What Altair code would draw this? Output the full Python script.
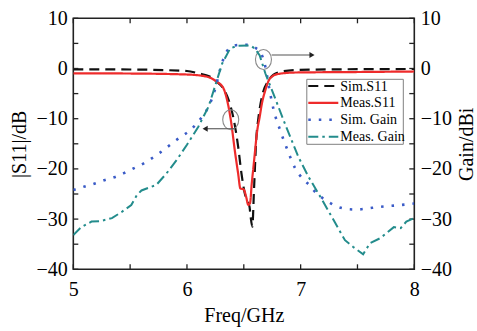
import altair as alt
import pandas as pd

# ---------------- data ----------------
sim_s11_f = [5.0, 5.5, 6.0, 6.10, 6.20, 6.26, 6.32, 6.37, 6.41, 6.45, 6.48, 6.51, 6.53,
             6.55, 6.56, 6.575, 6.59, 6.61, 6.63, 6.66, 6.72, 6.80, 6.95, 7.33, 8.0]
sim_s11_v = [-0.17, -0.2, -0.5, -0.96, -1.6, -2.6, -4.0, -6.5, -10.0, -15.5, -21.0, -25.0, -26.4,
             -27.5, -29.5, -31.5, -24.0, -14.0, -9.6, -5.6, -2.3, -0.8, -0.3, -0.16, -0.1]

meas_s11_f = [5.0, 5.5, 6.0, 6.17, 6.26, 6.32, 6.35, 6.39, 6.42, 6.45, 6.47, 6.50, 6.52, 6.54,
              6.555, 6.57, 6.585, 6.60, 6.615, 6.64, 6.66, 6.69, 6.73, 6.80, 6.95, 7.5, 8.0]
meas_s11_v = [-0.96, -1.0, -1.2, -1.6, -2.6, -3.9, -6.0, -10.9, -16.2, -20.9, -23.9, -24.1, -25.5, -27.2,
              -26.8, -22.9, -19.6, -16.2, -12.9, -9.6, -6.9, -4.3, -2.0, -1.1, -0.8, -0.7, -0.6]

sim_gain_f = [5.0, 5.10, 5.19, 5.28, 5.37, 5.45, 5.53, 5.62, 5.69, 5.76, 5.91, 6.06, 6.13, 6.19,
              6.25, 6.29, 6.36, 6.45, 6.555, 6.61, 6.64, 6.69, 6.72, 6.76, 6.82, 6.88, 6.95, 7.02,
              7.08, 7.14, 7.22, 7.31, 7.41, 7.49, 7.58, 7.68, 7.77, 7.88, 8.0]
sim_gain_v = [-24.2, -23.5, -22.9, -22.2, -21.6, -20.8, -19.9, -18.9, -17.9, -16.8, -14.2, -11.6, -9.7, -7.6,
              -3.9, -0.3, 3.7, 4.7, 4.7, 4.0, 3.5, 0.3, -3.5, -8.0, -12.3, -16.0, -19.8, -22.0,
              -23.3, -24.9, -26.2, -27.4, -28.0, -28.1, -27.9, -27.6, -27.4, -27.2, -26.9]

meas_gain_f = [5.0, 5.07, 5.16, 5.24, 5.34, 5.43, 5.51, 5.56, 5.60, 5.73, 5.82, 5.91, 6.0, 6.10,
               6.19, 6.25, 6.31, 6.38, 6.44, 6.56, 6.60, 6.64, 6.69, 6.77, 6.86, 6.98, 7.07, 7.19,
               7.29, 7.39, 7.46, 7.55, 7.61, 7.70, 7.82, 7.88, 7.93, 8.0]
meas_gain_v = [-33.2, -31.6, -30.5, -30.4, -29.8, -28.5, -27.2, -25.2, -24.3, -23.2, -20.9, -18.2, -15.2, -11.6,
               -7.6, -3.3, 1.0, 4.0, 4.5, 4.6, 3.9, 2.6, -1.0, -5.6, -10.9, -17.6, -21.6, -26.2,
               -30.2, -34.2, -35.5, -37.0, -34.8, -33.8, -31.6, -31.8, -30.5, -29.8]

series_names = ["Sim.S11", "Meas.S11", "Sim. Gain", "Meas. Gain"]
series_colors = ["#111111", "#ee2b2b", "#3a5bc7", "#238c8c"]
series_dash = [[10, 6], [1, 0], [2.5, 8], [10, 4, 2.5, 4]]
series_width = [2.2, 2.2, 2.6, 2.0]
series_interp = ["monotone", "monotone", "monotone", "linear"]

x_major = [5, 6, 7, 8]
x_minor = [5.5, 6.5, 7.5]
y_major = [10, 0, -10, -20, -30, -40]
y_minor = [5, -5, -15, -25, -35]

# annotation ellipses and arrows (data coordinates)
circle_f = [6.385, 6.673]
circle_v = [-10.2, 1.8]
arrow_start_f = [6.42, 6.745]
arrow_end_f = [6.16, 7.10]
arrow_v = [-12.0, 2.7]
arrow_dir = ["l", "r"]

# ---------------- chart ----------------
W, H = 341, 251
FONT = "Liberation Serif"

xs = alt.Scale(domain=[5, 8], nice=False, zero=False)
ys_left = alt.Scale(domain=[-40, 10], nice=False, zero=False)
ys_right = alt.Scale(domain=[-40, 10], nice=False, zero=False)

x_axis = alt.Axis(values=x_major, format="d", ticks=False, tickSize=0, domain=False, grid=False,
                  labelFont=FONT, labelFontSize=20, labelColor="black", labelPadding=10,
                  labelFlush=False, title="Freq/GHz", titleFont=FONT, titleFontSize=20,
                  titleFontWeight="normal", titleColor="black", titlePadding=6)
yl_axis = alt.Axis(orient="left", values=y_major, format="d", ticks=False, tickSize=0, domain=False,
                   grid=False, labelFont=FONT, labelFontSize=20, labelColor="black", labelPadding=6,
                   title="|S11|/dB", titleFont=FONT, titleFontSize=20, titleFontWeight="normal",
                   titleColor="black", titleAngle=270, titleBaseline="alphabetic", titleX=-48,
                   titleY=H / 2, titleAlign="center")
yr_axis = alt.Axis(orient="right", values=y_major, format="d", ticks=False, tickSize=0, domain=False,
                   grid=False, labelFont=FONT, labelFontSize=20, labelColor="black", labelPadding=6,
                   title="Gain/dBi", titleFont=FONT, titleFontSize=20, titleFontWeight="normal",
                   titleColor="black", titleAngle=270, titleBaseline="alphabetic", titleX=58,
                   titleY=H / 2, titleAlign="center")

X = alt.X("f:Q", scale=xs, axis=x_axis)
YL = alt.Y("v:Q", scale=ys_left, axis=yl_axis)
YR = alt.Y("v:Q", scale=ys_right, axis=yr_axis)


def series_line(fs, vs, i, y_enc):
    df = pd.DataFrame({"f": fs, "v": vs})
    return alt.Chart(df).mark_line(
        color=series_colors[i], strokeDash=series_dash[i], strokeWidth=series_width[i],
        interpolate=series_interp[i], clip=True
    ).encode(x=X, y=y_enc)


left_layers = [
    series_line(sim_s11_f, sim_s11_v, 0, YL),
    series_line(meas_s11_f, meas_s11_v, 1, YL),
]

# inward ticks
xt = pd.DataFrame({"f": x_major + x_minor})
yt = pd.DataFrame({"v": y_major + y_minor})
tick_style = dict(color="#222222", strokeWidth=1.3)
left_layers += [
    alt.Chart(xt).mark_rule(**tick_style).encode(x=X, y=alt.value(H), y2=alt.value(H - 5)),
    alt.Chart(xt).mark_rule(**tick_style).encode(x=X, y=alt.value(0), y2=alt.value(5)),
    alt.Chart(yt).mark_rule(**tick_style).encode(y=YL, x=alt.value(0), x2=alt.value(5)),
    alt.Chart(yt).mark_rule(**tick_style).encode(y=YL, x=alt.value(W), x2=alt.value(W - 5)),
]

# annotations
circ = pd.DataFrame({"f": circle_f, "v": circle_v})
arr = pd.DataFrame({"f": arrow_start_f, "f2": arrow_end_f, "v": arrow_v, "dir": arrow_dir})
arr_head = pd.DataFrame({"f": arrow_end_f, "v": arrow_v, "dir": arrow_dir})
ellipse = "M-0.8,0 A0.8,1 0 1,0 0.8,0 A0.8,1 0 1,0 -0.8,0 Z"
left_layers += [
    alt.Chart(circ).mark_point(shape=ellipse, size=400, filled=False, color="#8a8a8a",
                               strokeWidth=1.1, opacity=1).encode(x=X, y=YL),
    alt.Chart(arr).mark_rule(color="#555555", strokeWidth=1.1).encode(x=X, x2="f2:Q", y=YL),
    alt.Chart(arr_head).mark_point(filled=True, size=35, color="#222222", opacity=1).encode(
        x=X, y=YL,
        shape=alt.Shape("dir:N", scale=alt.Scale(domain=["l", "r"],
                                                 range=["triangle-left", "triangle-right"]),
                        legend=None)),
]

left = alt.layer(*left_layers)

right = alt.layer(
    series_line(sim_gain_f, sim_gain_v, 2, YR),
    series_line(meas_gain_f, meas_gain_v, 3, YR),
)

# legend box (pixel placement inside the plot area)
one = pd.DataFrame({"k": [0]})
LX0, LX1, LY0, LY1 = 233.5, 330, 61, 126
row_y = [67.7, 84.6, 101.5, 118.4]
legend_layers = [
    alt.Chart(one).mark_rect(fill="white", stroke="#808080", strokeWidth=1).encode(
        x=alt.value(LX0), x2=alt.value(LX1), y=alt.value(LY0), y2=alt.value(LY1))
]
for i, name in enumerate(series_names):
    legend_layers.append(
        alt.Chart(one).mark_rule(color=series_colors[i], strokeDash=series_dash[i],
                                 strokeWidth=series_width[i]).encode(
            x=alt.value(LX0 + 1.5), x2=alt.value(LX0 + 31.5), y=alt.value(row_y[i])))
    legend_layers.append(
        alt.Chart(one).mark_text(text=name, font=FONT, fontSize=14, color="black",
                                 align="left", baseline="middle").encode(
            x=alt.value(LX0 + 33.5), y=alt.value(row_y[i] + 0.5)))

legend = alt.layer(*legend_layers)

chart = alt.layer(left, right, legend).resolve_scale(y="independent").properties(
    width=W, height=H,
    autosize=alt.AutoSizeParams(type="none"),
    padding={"left": 73.3, "top": 18.3, "right": 477 - 73.3 - W, "bottom": 331 - 18.3 - H},
    background="white",
).configure_view(
    stroke="#222222", strokeWidth=1.6
).configure_axis(
    labelFont=FONT, titleFont=FONT, labelFontSize=20, titleFontSize=20,
    labelColor="black", titleColor="black", titleFontWeight="normal"
).configure_text(font=FONT)

chart.save("out.html", embed_options={"renderer": "svg", "actions": False})
